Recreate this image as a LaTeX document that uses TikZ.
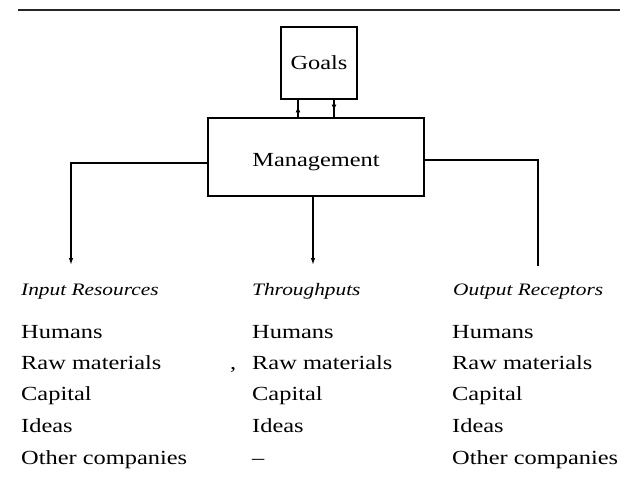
\documentclass[tikz,border=0pt]{standalone}
\usepackage{fontspec}
\setmainfont{Liberation Serif}[FakeStretch=1.22]
\usetikzlibrary{arrows.meta,decorations.markings}
\tikzset{
  box/.style={draw, line width=1.3pt, inner sep=0pt, font=\fontsize{20}{24}\selectfont},
  conn/.style={line width=1.3pt},
  tip/.style={-{Latex[length=7pt,width=4.5pt]}},
  midtip/.style={postaction={decorate},decoration={markings,mark=at position 0.62 with {\arrow{Latex[length=6pt,width=5pt]}}}},
  txt/.style={anchor=base west, inner sep=0pt, font=\fontsize{20}{24}\selectfont},
  head/.style={anchor=base west, inner sep=0pt, font=\fontsize{17.5}{21}\selectfont\itshape},
}
\begin{document}
\begin{tikzpicture}[x=1pt,y=-1pt]
\useasboundingbox (0,0) rectangle (637,491);
% top rule
\coordinate (ruleL) at (18,10);
\coordinate (ruleR) at (620,10);
\draw[line width=1.4pt, black!85] (ruleL) -- (ruleR);
% boxes
\node[box, minimum width=76pt, minimum height=72pt] (goals) at (319,63) {Goals};
\node[box, minimum width=216pt, minimum height=78pt] (mgmt) at (316,157) {};
\node[txt, anchor=center] (mtext) at ([yshift=-5pt]mgmt.center) {Management};
% connectors between goals and management
\coordinate (g1) at (298,0);
\coordinate (g2) at (334,0);
\draw[conn, midtip] (mgmt.north -| g1) -- (goals.south -| g1);
\draw[conn, midtip] (goals.south -| g2) -- (mgmt.north -| g2);
% outgoing connectors
\coordinate (inEnd) at (71,265);
\coordinate (thEnd) at (313,265);
\coordinate (outEnd) at (538,266);
\draw[conn, tip] ([yshift=-6pt]mgmt.west) -| (inEnd);
\draw[conn, tip] (mgmt.south -| thEnd) -- (thEnd);
\draw[conn] ([yshift=-3pt]mgmt.east) -| (outEnd);
% column 1
\node[head] (h1) at (21,295) {Input Resources};
\node[txt] (a1) at (21,338) {Humans};
\node[txt] (a2) at (21,369) {Raw materials};
\node[txt] (a3) at (21,400) {Capital};
\node[txt] (a4) at (21,432) {Ideas};
\node[txt] (a5) at (21,464) {Other companies};
% column 2
\node[head] (h2) at (252,295) {Throughputs};
\node[txt] (b1) at (252,338) {Humans};
\node[txt] (bc) at (230,369) {,};
\node[txt] (b2) at (252,369) {Raw materials};
\node[txt] (b3) at (252,400) {Capital};
\node[txt] (b4) at (252,432) {Ideas};
\node[txt] (b5) at (252,464) {–};
% column 3
\node[head] (h3) at (453,295) {Output Receptors};
\node[txt] (c1) at (452,338) {Humans};
\node[txt] (c2) at (452,369) {Raw materials};
\node[txt] (c3) at (452,400) {Capital};
\node[txt] (c4) at (452,432) {Ideas};
\node[txt] (c5) at (452,464) {Other companies};
\end{tikzpicture}
\end{document}
